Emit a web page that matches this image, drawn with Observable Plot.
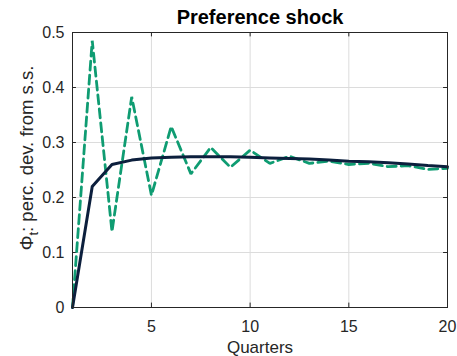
<!DOCTYPE html>
<html>
<head>
<meta charset="utf-8">
<script src="https://cdn.jsdelivr.net/npm/d3@7"></script>
<script src="https://cdn.jsdelivr.net/npm/@observablehq/plot@0.6"></script>
<style>
  html, body { margin: 0; padding: 0; background: #fff; }
  #chart { width: 457px; height: 356px; }
</style>
</head>
<body>
<div id="chart"></div>
<script>
const quarters = [1,2,3,4,5,6,7,8,9,10,11,12,13,14,15,16,17,18,19,20];
const solidSeries = [0, 0.22, 0.26, 0.268, 0.272, 0.273, 0.274, 0.274, 0.274, 0.273, 0.272, 0.271, 0.270, 0.268, 0.266, 0.265, 0.263, 0.261, 0.258, 0.256];
const dashedSeries = [0, 0.485, 0.138, 0.383, 0.204, 0.329, 0.243, 0.291, 0.255, 0.286, 0.262, 0.275, 0.262, 0.266, 0.260, 0.262, 0.256, 0.258, 0.251, 0.253];
const xTicks = [5, 10, 15, 20];
const yTicks = [0, 0.1, 0.2, 0.3, 0.4, 0.5];
const yTickLabels = ["0", "0.1", "0.2", "0.3", "0.4", "0.5"];
const titleText = "Preference shock";
const xLabel = "Quarters";

const solid = quarters.map((q, i) => ({q, v: solidSeries[i]}));
const dashed = quarters.map((q, i) => ({q, v: dashedSeries[i]}));

const font = "Liberation Sans, Arial, Helvetica, sans-serif";

const chart = Plot.plot({
  width: 457,
  height: 356,
  marginLeft: 72,
  marginRight: 10,
  marginTop: 32,
  marginBottom: 49,
  style: {fontFamily: font, fontSize: "16px", color: "#262626", background: "#fff"},
  x: {domain: [1, 20], ticks: xTicks},
  y: {domain: [0, 0.5], ticks: yTicks},
  marks: [
    Plot.gridX(xTicks, {stroke: "#dcdcdc", strokeOpacity: 1, strokeWidth: 1}),
    Plot.gridY(yTicks, {stroke: "#dcdcdc", strokeOpacity: 1, strokeWidth: 1}),
    Plot.axisX(xTicks, {tickSize: 0, tickPadding: 13, fontSize: 16, fill: "#262626", label: null}),
    Plot.axisY(yTicks, {tickSize: 0, tickPadding: 8, fontSize: 16, fill: "#262626", label: null,
      tickFormat: (d) => yTickLabels[yTicks.indexOf(d)]}),
    Plot.ruleX(xTicks, {x: d => d, y1: 0, y2: 0.008, stroke: "#262626"}),
    Plot.ruleX(xTicks, {x: d => d, y1: 0.5, y2: 0.492, stroke: "#262626"}),
    Plot.ruleY(yTicks, {y: d => d, x1: 1, x2: 1.2, stroke: "#262626"}),
    Plot.ruleY(yTicks, {y: d => d, x1: 20, x2: 19.8, stroke: "#262626"}),
    Plot.line(dashed, {x: "q", y: "v", stroke: "#0f9c72", strokeWidth: 2.8, strokeDasharray: "9,5", strokeLinejoin: "miter"}),
    Plot.line(solid, {x: "q", y: "v", stroke: "#0c1f3d", strokeWidth: 3}),
    Plot.frame({stroke: "#262626", strokeWidth: 1}),
    Plot.text([titleText], {frameAnchor: "top", lineAnchor: "bottom", dy: -9, fontSize: 20, fontWeight: "bold", fill: "#000", text: d => d}),
    Plot.text([xLabel], {frameAnchor: "bottom", lineAnchor: "bottom", dy: 45, fontSize: 17, fill: "#262626", text: d => d})
  ]
});

document.getElementById("chart").appendChild(chart);

// y-axis label with subscript
const svg = d3.select(chart);
const lbl = svg.append("text")
  .attr("transform", "translate(33,158) rotate(-90)")
  .attr("text-anchor", "middle")
  .attr("font-family", font)
  .attr("font-size", 18.5)
  .attr("fill", "#262626");
lbl.append("tspan").text("Φ");
lbl.append("tspan").attr("dy", 5).attr("font-size", 13).text("t");
lbl.append("tspan").attr("dy", -5).text(": perc. dev. from s.s.");
</script>
</body>
</html>
